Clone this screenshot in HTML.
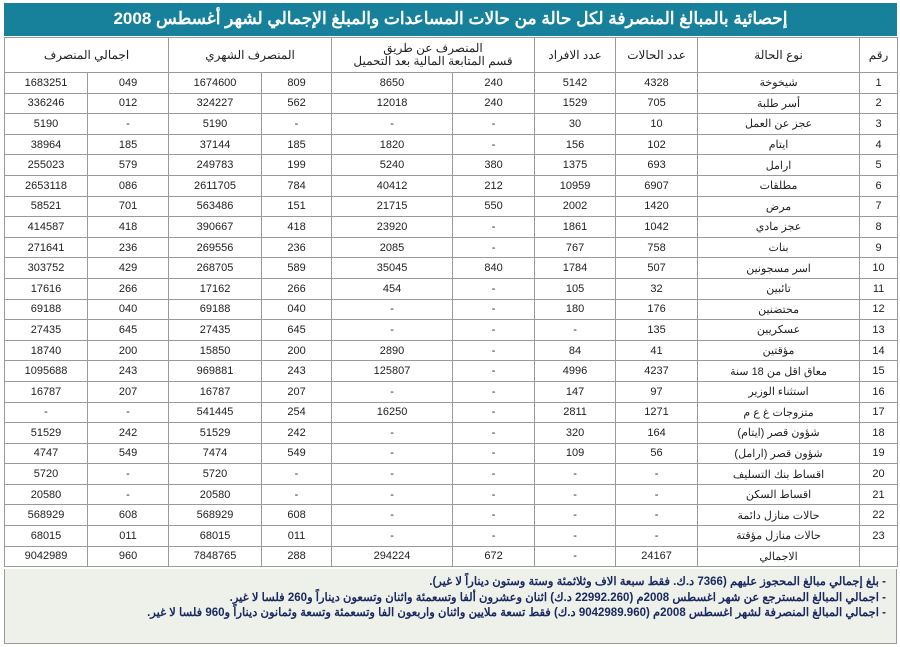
<!DOCTYPE html>
<html><head><meta charset="utf-8"><style>
body{margin:0;width:900px;height:647px;background:#fff;font-family:"Liberation Sans","Noto Sans CJK SC",sans-serif;position:relative;overflow:hidden}
.title{position:absolute;left:4px;top:3px;width:893px;height:33px;background:#17809b;color:#fff;font-weight:bold;font-size:17px;text-align:center;line-height:31px;direction:rtl}
table{position:absolute;left:4px;top:37px;width:893px;border-collapse:collapse;table-layout:fixed;direction:rtl;font-size:11px;color:#222}
td{border:1px solid #9a9a9a;text-align:center;height:19.6px;padding:0;white-space:nowrap;overflow:hidden}
tr.h td{height:34px;font-size:12px;line-height:13px}
.foot{position:absolute;left:4px;top:569px;width:891px;height:74px;background:#eef0ea;border:1px solid #9a9a9a;border-top:none;direction:rtl;font-size:11.5px;font-weight:bold;color:#1a2a60;padding:0;line-height:15.5px}
.foot div{padding-right:10px}
</style></head><body>
<div class="title">إحصائية بالمبالغ المنصرفة لكل حالة من حالات المساعدات والمبلغ الإجمالي لشهر أغسطس 2008</div>
<table>
<colgroup><col style="width:38px"><col style="width:162px"><col style="width:82px"><col style="width:81px"><col style="width:82px"><col style="width:121px"><col style="width:70px"><col style="width:93px"><col style="width:81px"><col style="width:83px"></colgroup>
<tr class="h"><td>رقم</td><td>نوع الحالة</td><td>عدد الحالات</td><td>عدد الافراد</td><td colspan="2">المنصرف عن طريق<br>قسم المتابعة المالية بعد التحميل</td><td colspan="2">المنصرف الشهري</td><td colspan="2">اجمالي المنصرف</td></tr>
<tr><td>1</td><td>شيخوخة</td><td>4328</td><td>5142</td><td>240</td><td>8650</td><td>809</td><td>1674600</td><td>049</td><td>1683251</td></tr>
<tr><td>2</td><td>أسر طلبة</td><td>705</td><td>1529</td><td>240</td><td>12018</td><td>562</td><td>324227</td><td>012</td><td>336246</td></tr>
<tr><td>3</td><td>عجز عن العمل</td><td>10</td><td>30</td><td>-</td><td>-</td><td>-</td><td>5190</td><td>-</td><td>5190</td></tr>
<tr><td>4</td><td>ايتام</td><td>102</td><td>156</td><td>-</td><td>1820</td><td>185</td><td>37144</td><td>185</td><td>38964</td></tr>
<tr><td>5</td><td>ارامل</td><td>693</td><td>1375</td><td>380</td><td>5240</td><td>199</td><td>249783</td><td>579</td><td>255023</td></tr>
<tr><td>6</td><td>مطلقات</td><td>6907</td><td>10959</td><td>212</td><td>40412</td><td>784</td><td>2611705</td><td>086</td><td>2653118</td></tr>
<tr><td>7</td><td>مرض</td><td>1420</td><td>2002</td><td>550</td><td>21715</td><td>151</td><td>563486</td><td>701</td><td>58521</td></tr>
<tr><td>8</td><td>عجز مادي</td><td>1042</td><td>1861</td><td>-</td><td>23920</td><td>418</td><td>390667</td><td>418</td><td>414587</td></tr>
<tr><td>9</td><td>بنات</td><td>758</td><td>767</td><td>-</td><td>2085</td><td>236</td><td>269556</td><td>236</td><td>271641</td></tr>
<tr><td>10</td><td>اسر مسجونين</td><td>507</td><td>1784</td><td>840</td><td>35045</td><td>589</td><td>268705</td><td>429</td><td>303752</td></tr>
<tr><td>11</td><td>تائبين</td><td>32</td><td>105</td><td>-</td><td>454</td><td>266</td><td>17162</td><td>266</td><td>17616</td></tr>
<tr><td>12</td><td>محتضنين</td><td>176</td><td>180</td><td>-</td><td>-</td><td>040</td><td>69188</td><td>040</td><td>69188</td></tr>
<tr><td>13</td><td>عسكريين</td><td>135</td><td>-</td><td>-</td><td>-</td><td>645</td><td>27435</td><td>645</td><td>27435</td></tr>
<tr><td>14</td><td>مؤقتين</td><td>41</td><td>84</td><td>-</td><td>2890</td><td>200</td><td>15850</td><td>200</td><td>18740</td></tr>
<tr><td>15</td><td>معاق اقل من 18 سنة</td><td>4237</td><td>4996</td><td>-</td><td>125807</td><td>243</td><td>969881</td><td>243</td><td>1095688</td></tr>
<tr><td>16</td><td>استثناء الوزير</td><td>97</td><td>147</td><td>-</td><td>-</td><td>207</td><td>16787</td><td>207</td><td>16787</td></tr>
<tr><td>17</td><td>متزوجات غ ع م</td><td>1271</td><td>2811</td><td>-</td><td>16250</td><td>254</td><td>541445</td><td>-</td><td>-</td></tr>
<tr><td>18</td><td>شؤون قصر (ايتام)</td><td>164</td><td>320</td><td>-</td><td>-</td><td>242</td><td>51529</td><td>242</td><td>51529</td></tr>
<tr><td>19</td><td>شؤون قصر (ارامل)</td><td>56</td><td>109</td><td>-</td><td>-</td><td>549</td><td>7474</td><td>549</td><td>4747</td></tr>
<tr><td>20</td><td>اقساط بنك التسليف</td><td>-</td><td>-</td><td>-</td><td>-</td><td>-</td><td>5720</td><td>-</td><td>5720</td></tr>
<tr><td>21</td><td>اقساط السكن</td><td>-</td><td>-</td><td>-</td><td>-</td><td>-</td><td>20580</td><td>-</td><td>20580</td></tr>
<tr><td>22</td><td>حالات منازل دائمة</td><td>-</td><td>-</td><td>-</td><td>-</td><td>608</td><td>568929</td><td>608</td><td>568929</td></tr>
<tr><td>23</td><td>حالات منازل مؤقتة</td><td>-</td><td>-</td><td>-</td><td>-</td><td>011</td><td>68015</td><td>011</td><td>68015</td></tr>
<tr><td></td><td>الاجمالي</td><td>24167</td><td>-</td><td>672</td><td>294224</td><td>288</td><td>7848765</td><td>960</td><td>9042989</td></tr>
</table>
<div class="foot"><div style="height:6px"></div>
<div>- بلغ إجمالي مبالغ المحجوز عليهم (7366 د.ك. فقط سبعة الاف وثلاثمئة وستة وستون ديناراً لا غير).</div>
<div>- اجمالي المبالغ المسترجع عن شهر اغسطس 2008م (22992.260 د.ك) اثنان وعشرون ألفا وتسعمئة واثنان وتسعون ديناراً و260 فلسا لا غير.</div>
<div>- اجمالي المبالغ المنصرفة لشهر اغسطس 2008م (9042989.960 د.ك) فقط تسعة ملايين واثنان واربعون الفا وتسعمئة وتسعة وثمانون ديناراً و960 فلسا لا غير.</div>
</div>
</body></html>
